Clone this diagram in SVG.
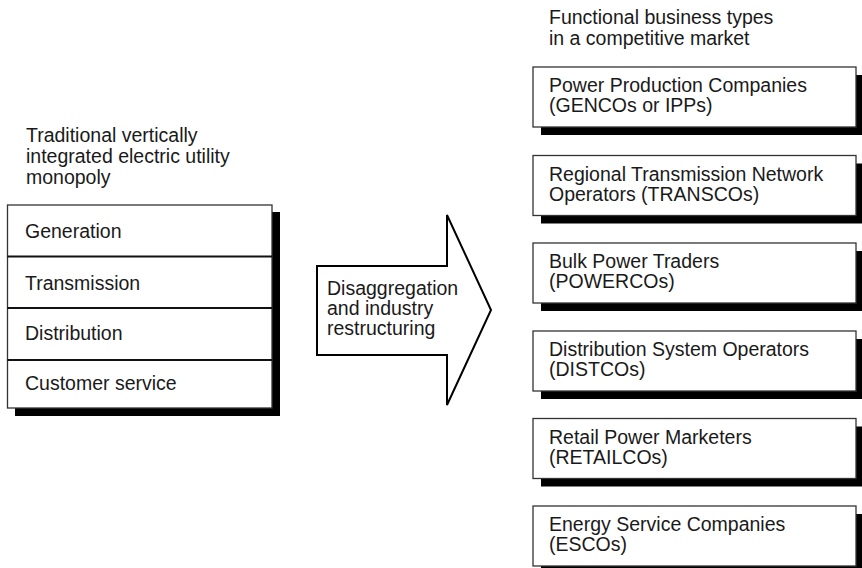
<svg xmlns="http://www.w3.org/2000/svg" width="862" height="568" viewBox="0 0 862 568">
  <style>
    text { font-family: "Liberation Sans", Arial, Helvetica, sans-serif; font-size: 19.5px; fill: #1a1a1a; }
    .box { fill: #ffffff; stroke: #333333; stroke-width: 1.3; }
    .shadow { fill: #000000; }
    .divider { stroke: #111111; stroke-width: 2; }
    .arrow { fill: #ffffff; stroke: #000000; stroke-width: 2; stroke-linejoin: miter; }
  </style>
  <defs>
    <!-- shadowed business-type box, positioned with x/y on <use> -->
    <g id="bizbox">
      <rect class="shadow" x="8" y="8" width="323" height="60"/>
      <rect class="box" x="0" y="0" width="323" height="60"/>
    </g>
  </defs>

  <rect width="862" height="568" fill="#ffffff"/>

  <!-- left column: integrated utility -->
  <g id="utility-title">
    <text x="26" y="142">Traditional vertically</text>
    <text x="26" y="163">integrated electric utility</text>
    <text x="26" y="184">monopoly</text>
  </g>
  <g id="utility">
    <rect class="shadow" x="15" y="212" width="265" height="204"/>
    <rect class="box" x="7.5" y="205" width="264.5" height="203"/>
    <line class="divider" x1="7.5" y1="256.5" x2="272" y2="256.5"/>
    <line class="divider" x1="7.5" y1="308" x2="272" y2="308"/>
    <line class="divider" x1="7.5" y1="360" x2="272" y2="360"/>
    <text x="25" y="238">Generation</text>
    <text x="25" y="290">Transmission</text>
    <text x="25" y="340">Distribution</text>
    <text x="25" y="390">Customer service</text>
  </g>

  <!-- block arrow -->
  <g id="connectors">
    <g id="restructuring">
      <polygon class="arrow" points="317,266 447,266 447,215 491,310 447,405 447,355 317,355"/>
      <text x="327" y="295">Disaggregation</text>
      <text x="327" y="315">and industry</text>
      <text x="327" y="335">restructuring</text>
    </g>
  </g>

  <!-- right column: competitive market business types -->
  <g id="market-title">
    <text x="549" y="24">Functional business types</text>
    <text x="549" y="45">in a competitive market</text>
  </g>
  <g id="gencos">
    <use href="#bizbox" x="533" y="67"/>
    <text x="549" y="92">Power Production Companies</text>
    <text x="549" y="112">(GENCOs or IPPs)</text>
  </g>
  <g id="transcos">
    <use href="#bizbox" x="533" y="155.5"/>
    <text x="549" y="180.5">Regional Transmission Network</text>
    <text x="549" y="200.5">Operators (TRANSCOs)</text>
  </g>
  <g id="powercos">
    <use href="#bizbox" x="533" y="243"/>
    <text x="549" y="268">Bulk Power Traders</text>
    <text x="549" y="288">(POWERCOs)</text>
  </g>
  <g id="distcos">
    <use href="#bizbox" x="533" y="331"/>
    <text x="549" y="356">Distribution System Operators</text>
    <text x="549" y="376">(DISTCOs)</text>
  </g>
  <g id="retailcos">
    <use href="#bizbox" x="533" y="418.5"/>
    <text x="549" y="443.5">Retail Power Marketers</text>
    <text x="549" y="463.5">(RETAILCOs)</text>
  </g>
  <g id="escos">
    <use href="#bizbox" x="533" y="506"/>
    <text x="549" y="531">Energy Service Companies</text>
    <text x="549" y="551">(ESCOs)</text>
  </g>
</svg>
